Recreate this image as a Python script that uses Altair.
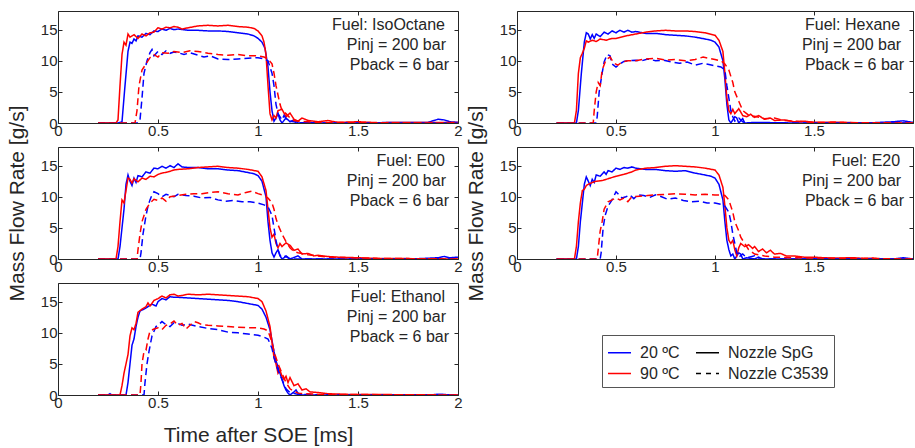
import altair as alt
import pandas as pd

FONT = "Liberation Sans"
INK = "#262626"

TEMPS = ["20 ºC", "90 ºC"]
NOZZLES = ["Nozzle SpG", "Nozzle C3539"]
LEGEND_ORDER = ["20 ºC", "90 ºC", "Nozzle SpG", "Nozzle C3539"]
LEGEND_COLORS = ["#0000ff", "#ff0000", "#000000", "#000000"]
NOZZLE_DASH = [[1, 0], [7, 4]]
X_TICKS = [0, 0.5, 1, 1.5, 2]
Y_TICKS = [0, 5, 10, 15]
ANN_Y = [15.7, 12.5, 9.3]
ANN_X = [1.935, 1.94, 1.955]

# ---------------- IsoOctane ----------------
ISO_20_SPG = [(0.20,0),(0.30,0),(0.32,0.2),(0.335,6),(0.35,11.5),(0.36,13),(0.37,12.8),(0.38,13.5),(0.39,13.2),(0.40,14),(0.42,13.8),(0.44,14.4),(0.46,14.2),(0.48,14.8),(0.50,14.7),(0.52,15.1),(0.54,14.9),(0.56,15.2),(0.58,15.0),(0.60,15.1),(0.65,14.9),(0.70,14.9),(0.75,14.8),(0.80,14.8),(0.85,14.7),(0.90,14.5),(0.95,14.3),(0.98,14.0),(1.00,13.6),(1.02,13.0),(1.035,12.0),(1.05,9),(1.06,5),(1.07,2),(1.08,0.3),(1.09,0.8),(1.10,1.5),(1.11,0.5),(1.12,0),(1.14,0.8),(1.16,0.2),(1.18,0.5),(1.20,0),(1.25,0.1),(1.30,0),(1.50,0),(1.70,0.1),(1.85,0.1),(1.90,0.6),(1.93,0.5),(1.96,0.2),(2.0,0.1)]
ISO_90_SPG = [(0.20,0),(0.29,0),(0.30,0.5),(0.31,6),(0.32,11),(0.33,13),(0.34,12.5),(0.35,14.3),(0.36,13.8),(0.38,14.2),(0.40,13.6),(0.42,14.3),(0.44,14),(0.46,14.5),(0.48,14.6),(0.50,15.3),(0.52,15.1),(0.54,15.4),(0.56,15.3),(0.58,15.5),(0.60,15.4),(0.62,15.1),(0.65,15.3),(0.70,15.6),(0.75,15.7),(0.80,15.6),(0.85,15.7),(0.90,15.5),(0.95,15.4),(0.98,15.2),(1.00,14.8),(1.02,14.0),(1.03,13),(1.04,11),(1.05,6),(1.06,1.5),(1.07,0.5),(1.08,1.2),(1.09,0.8),(1.10,2.0),(1.12,2.2),(1.14,1.0),(1.16,1.6),(1.18,0.6),(1.20,0.3),(1.22,0.8),(1.25,0.4),(1.30,0.2),(1.35,0.4),(1.40,0.1),(1.50,0.2),(1.60,0.05),(1.80,0.1),(2.0,0.1)]
ISO_20_C = [(0.20,0),(0.40,0),(0.41,0.5),(0.42,4),(0.43,8),(0.445,10),(0.46,11.3),(0.47,11.8),(0.48,10.8),(0.50,11.5),(0.52,11.0),(0.54,11.6),(0.56,11.2),(0.58,11.4),(0.60,11.3),(0.63,11.0),(0.66,11.3),(0.70,10.9),(0.73,10.6),(0.76,10.8),(0.80,10.3),(0.85,10.2),(0.90,10.3),(0.95,10.4),(1.00,10.5),(1.03,10.3),(1.05,10.0),(1.07,8),(1.08,6),(1.09,3),(1.10,1.5),(1.12,0.5),(1.13,1.2),(1.15,0.3),(1.18,0.2),(1.20,0),(1.4,0),(2.0,0)]
ISO_90_C = [(0.20,0),(0.385,0),(0.395,2),(0.405,6),(0.42,8.5),(0.44,9.5),(0.46,10.5),(0.48,11.0),(0.50,10.6),(0.52,11.3),(0.55,11.2),(0.58,11.5),(0.62,11.3),(0.66,11.6),(0.70,11.5),(0.75,11.2),(0.80,11.0),(0.85,10.9),(0.90,11.0),(0.95,10.8),(1.00,10.8),(1.03,10.6),(1.05,10.3),(1.07,9.5),(1.08,8),(1.09,6),(1.10,4.5),(1.11,3),(1.12,2),(1.14,1.5),(1.16,0.8),(1.18,0.4),(1.20,0.3),(1.25,0.2),(1.30,0.1),(1.5,0.05),(2.0,0)]

# ---------------- Hexane ----------------
HEX_20_SPG = [(0.20,0),(0.30,0),(0.31,2),(0.325,8),(0.34,13),(0.35,14.5),(0.36,14.3),(0.37,13.5),(0.38,14.2),(0.39,13.6),(0.40,14.3),(0.42,13.9),(0.44,14.6),(0.46,14.3),(0.48,14.8),(0.50,14.5),(0.52,14.9),(0.54,14.6),(0.56,14.9),(0.58,14.6),(0.60,14.7),(0.65,14.4),(0.70,14.4),(0.75,14.2),(0.80,14.1),(0.85,14.0),(0.90,13.8),(0.95,13.5),(0.98,13.3),(1.00,13.0),(1.02,12.2),(1.04,10),(1.05,7),(1.06,3),(1.07,0.5),(1.08,0),(1.10,1.0),(1.11,0.8),(1.12,0),(1.14,0.7),(1.15,0),(1.2,0.1),(1.4,0),(1.8,0.05),(1.9,0.2),(1.95,0.35),(2.0,0.1)]
HEX_90_SPG = [(0.20,0),(0.29,0),(0.30,2),(0.31,8),(0.32,10.5),(0.33,11.2),(0.34,12),(0.35,13.2),(0.36,13.0),(0.38,13.3),(0.40,13.1),(0.42,13.5),(0.45,13.3),(0.48,13.6),(0.50,13.6),(0.55,14.0),(0.60,14.3),(0.65,14.6),(0.70,14.8),(0.75,14.9),(0.80,14.8),(0.85,14.8),(0.90,14.7),(0.95,14.5),(1.00,14.1),(1.02,13.3),(1.04,11.5),(1.05,8),(1.06,4),(1.07,2),(1.08,1.5),(1.09,2.2),(1.10,1.5),(1.12,2.3),(1.14,1.2),(1.16,1.0),(1.18,1.4),(1.20,0.9),(1.22,1.2),(1.25,0.6),(1.28,0.8),(1.30,0.4),(1.35,0.5),(1.40,0.2),(1.45,0.3),(1.50,0.1),(1.60,0.15),(1.70,0.05),(2.0,0)]
HEX_20_C = [(0.20,0),(0.40,0),(0.405,1),(0.415,5),(0.43,8),(0.44,9.8),(0.455,11),(0.47,10.8),(0.48,9.5),(0.50,9.0),(0.52,9.5),(0.54,9.9),(0.56,10.0),(0.60,10.1),(0.63,10.0),(0.66,10.3),(0.70,10.0),(0.74,10.1),(0.78,9.8),(0.82,9.6),(0.86,9.8),(0.90,9.3),(0.94,9.6),(0.97,9.4),(1.00,9.2),(1.03,9.0),(1.05,8.5),(1.06,6),(1.07,4),(1.08,2),(1.09,1),(1.10,0.3),(1.12,0.8),(1.14,0.2),(1.16,0),(1.4,0),(2.0,0)]
HEX_90_C = [(0.20,0),(0.385,0),(0.39,2),(0.40,5),(0.41,6.5),(0.42,6),(0.43,8.5),(0.45,10.2),(0.47,10.6),(0.49,9.6),(0.51,9.3),(0.53,9.8),(0.56,10.0),(0.60,10.0),(0.65,10.3),(0.70,10.4),(0.75,10.1),(0.80,10.2),(0.85,10.0),(0.90,10.2),(0.94,10.6),(0.97,10.4),(1.00,10.2),(1.03,10.0),(1.05,9.5),(1.07,8.5),(1.09,6.5),(1.10,5),(1.12,3.5),(1.14,2),(1.16,1.5),(1.18,1.0),(1.20,1.1),(1.25,0.7),(1.30,0.8),(1.35,0.4),(1.40,0.3),(1.5,0.1),(2.0,0)]

# ---------------- E00 ----------------
E00_20_SPG = [(0.20,0),(0.30,0),(0.31,2),(0.32,5),(0.33,8),(0.34,12),(0.35,13.5),(0.36,12.5),(0.37,11.8),(0.38,13.0),(0.39,12.3),(0.40,13.4),(0.42,13.2),(0.44,14.0),(0.46,13.8),(0.48,14.6),(0.50,14.5),(0.52,14.9),(0.54,14.6),(0.56,15.0),(0.58,14.7),(0.60,15.3),(0.62,14.8),(0.65,14.7),(0.70,14.7),(0.75,14.5),(0.80,14.5),(0.85,14.3),(0.90,14.2),(0.95,13.9),(0.98,13.7),(1.00,13.4),(1.02,12.5),(1.04,10),(1.05,6),(1.06,3),(1.07,1),(1.08,0.3),(1.09,1.0),(1.10,1.5),(1.11,0.5),(1.12,0),(1.14,0.4),(1.16,0),(1.20,0.5),(1.22,0),(1.5,0),(1.8,0.05),(1.9,0.2),(1.93,0.4),(1.96,0.2),(2.0,0.3)]
E00_90_SPG = [(0.20,0),(0.29,0),(0.30,2),(0.31,6),(0.32,9.5),(0.33,9.0),(0.34,11),(0.35,13),(0.36,12.8),(0.37,12.2),(0.38,12.9),(0.40,12.4),(0.42,13.0),(0.44,12.8),(0.46,13.3),(0.48,13.2),(0.50,13.6),(0.52,13.8),(0.55,14.0),(0.58,14.3),(0.60,14.4),(0.65,14.5),(0.70,14.7),(0.75,14.8),(0.80,14.9),(0.85,14.7),(0.90,14.6),(0.95,14.4),(1.00,14.1),(1.02,13.2),(1.04,11),(1.05,8),(1.06,5),(1.07,3.5),(1.08,4),(1.09,2.5),(1.10,1.8),(1.11,2.5),(1.12,2.0),(1.14,2.6),(1.16,2.2),(1.18,1.4),(1.20,1.6),(1.22,0.8),(1.25,0.9),(1.28,0.5),(1.30,0.6),(1.35,0.4),(1.40,0.3),(1.50,0.2),(1.60,0.1),(2.0,0)]
E00_20_C = [(0.20,0),(0.41,0),(0.415,1),(0.425,4),(0.44,7),(0.45,8.5),(0.46,9.5),(0.47,10.3),(0.48,10.8),(0.50,10.5),(0.52,10.0),(0.54,10.4),(0.56,10.2),(0.58,10.0),(0.60,10.4),(0.64,10.2),(0.68,10.1),(0.72,9.8),(0.76,9.9),(0.80,9.5),(0.84,9.3),(0.88,9.4),(0.92,9.2),(0.96,9.2),(1.00,9.0),(1.03,8.7),(1.05,8.4),(1.07,7),(1.08,5),(1.09,3),(1.10,1.5),(1.11,0.6),(1.12,0.2),(1.14,0.5),(1.16,0),(1.4,0),(2.0,0)]
E00_90_C = [(0.20,0),(0.395,0),(0.40,1.5),(0.41,4),(0.42,6),(0.44,8),(0.46,9),(0.48,9.6),(0.50,9.4),(0.52,9.8),(0.54,9.3),(0.56,10.0),(0.60,10.2),(0.64,10.4),(0.68,10.5),(0.72,10.5),(0.76,10.7),(0.80,10.8),(0.85,10.5),(0.90,10.3),(0.94,10.7),(0.97,10.9),(1.00,10.5),(1.03,10.2),(1.05,9.8),(1.07,9.0),(1.08,8),(1.09,6.5),(1.10,5.5),(1.12,4),(1.14,2.8),(1.16,1.8),(1.18,1.2),(1.20,1.0),(1.25,0.7),(1.30,0.5),(1.35,0.3),(1.45,0.2),(1.6,0.1),(2.0,0)]

# ---------------- Ethanol ----------------
ETH_20_SPG = [(0.20,0),(0.25,0),(0.26,0.2),(0.27,0),(0.34,0),(0.35,2),(0.36,5),(0.37,8),(0.38,9),(0.39,11),(0.40,12.5),(0.41,13.5),(0.43,13.8),(0.45,14.2),(0.47,14.6),(0.49,14.3),(0.50,15.0),(0.52,15.5),(0.54,15.3),(0.56,15.8),(0.58,15.7),(0.60,15.7),(0.65,15.6),(0.70,15.5),(0.75,15.4),(0.80,15.3),(0.85,15.2),(0.90,15.0),(0.95,14.7),(1.00,14.4),(1.02,13.8),(1.04,12.5),(1.06,10.5),(1.08,7),(1.09,5.5),(1.10,4.5),(1.11,3.5),(1.12,2.5),(1.13,1.5),(1.14,0.8),(1.15,0.3),(1.16,0),(1.18,0.5),(1.19,0.8),(1.20,0.3),(1.22,0),(1.5,0),(1.85,0),(1.9,0.1),(2.0,0)]
ETH_90_SPG = [(0.20,0),(0.31,0),(0.32,1.5),(0.33,3.5),(0.34,5),(0.35,6.5),(0.36,9.5),(0.37,10.8),(0.38,10.5),(0.39,11.5),(0.40,13.3),(0.42,13.8),(0.44,14.2),(0.45,14.8),(0.46,14.3),(0.48,15.2),(0.50,15.5),(0.52,15.9),(0.54,15.6),(0.56,16.1),(0.58,16.2),(0.60,15.9),(0.62,16.0),(0.65,16.2),(0.70,16.1),(0.75,16.2),(0.80,16.1),(0.85,16.0),(0.90,15.9),(0.95,15.8),(1.00,15.5),(1.02,15.0),(1.04,13.5),(1.06,11),(1.07,8.5),(1.08,6),(1.09,5),(1.10,3.5),(1.11,4),(1.12,3),(1.13,2.5),(1.14,3),(1.15,2),(1.16,2.8),(1.18,1.5),(1.20,1.8),(1.22,0.8),(1.24,1.0),(1.26,0.5),(1.30,0.4),(1.35,0.2),(1.45,0.1),(2.0,0)]
ETH_20_C = [(0.20,0),(0.43,0),(0.435,2),(0.445,5),(0.455,7),(0.47,9.5),(0.49,11),(0.51,11.5),(0.52,11.8),(0.54,11.3),(0.56,11.0),(0.58,11.6),(0.60,11.5),(0.62,11.2),(0.65,11.4),(0.70,11.0),(0.75,10.7),(0.80,10.5),(0.85,10.1),(0.90,10.0),(0.95,9.8),(1.00,9.6),(1.03,9.3),(1.05,9.0),(1.07,7.5),(1.08,6),(1.10,4),(1.12,2.5),(1.14,1),(1.16,0.4),(1.20,0.1),(1.4,0),(1.85,0),(1.9,0.1),(2.0,0)]
ETH_90_C = [(0.20,0),(0.41,0),(0.415,2),(0.42,5),(0.43,7),(0.44,7.2),(0.45,9),(0.46,10.3),(0.48,10.6),(0.50,10.8),(0.52,10.5),(0.54,11.2),(0.56,11.4),(0.58,11.9),(0.60,11.2),(0.62,11.5),(0.64,10.6),(0.66,11.2),(0.68,11.8),(0.70,11.6),(0.72,11.3),(0.75,11.2),(0.80,11.1),(0.85,11.0),(0.90,10.9),(0.95,10.8),(1.00,10.8),(1.03,10.6),(1.05,10.3),(1.07,8.5),(1.08,7),(1.10,5),(1.12,3.5),(1.14,2),(1.16,1),(1.18,0.6),(1.20,0.3),(1.3,0.1),(2.0,0)]

# ---------------- E20 ----------------
E20_20_SPG = [(0.20,0),(0.30,0),(0.31,2),(0.32,6),(0.33,9),(0.34,12),(0.35,13.2),(0.36,12.5),(0.37,11.8),(0.38,12.8),(0.39,12.3),(0.40,13.5),(0.42,13.3),(0.44,14.0),(0.45,13.6),(0.46,14.2),(0.48,14.0),(0.50,14.6),(0.52,14.4),(0.54,14.7),(0.56,14.6),(0.58,14.8),(0.60,14.6),(0.65,14.4),(0.70,14.4),(0.75,14.2),(0.80,14.1),(0.85,14.2),(0.90,13.8),(0.95,13.5),(0.98,13.3),(1.00,13.0),(1.02,12.0),(1.04,9.5),(1.05,6),(1.06,3),(1.07,1.5),(1.08,0.5),(1.09,0.8),(1.10,0),(1.12,1.0),(1.13,0.8),(1.14,0),(1.16,0.2),(1.20,0),(1.22,0.3),(1.24,0),(1.5,0),(1.9,0),(1.95,0.2),(2.0,0)]
E20_90_SPG = [(0.20,0),(0.29,0),(0.30,2),(0.31,6),(0.32,9),(0.33,11),(0.34,11.2),(0.35,11.8),(0.36,12.0),(0.38,12.3),(0.40,12.5),(0.43,12.6),(0.46,12.9),(0.50,13.3),(0.54,13.6),(0.58,14.0),(0.60,14.3),(0.65,14.6),(0.70,14.7),(0.75,14.9),(0.80,15.0),(0.85,14.9),(0.90,14.8),(0.95,14.6),(1.00,14.3),(1.02,13.5),(1.04,11.5),(1.05,8.5),(1.06,5),(1.07,3),(1.08,2.5),(1.09,3),(1.10,1.5),(1.11,0.5),(1.12,1.8),(1.13,2.5),(1.15,2.0),(1.17,2.3),(1.19,1.7),(1.20,2.0),(1.22,1.2),(1.24,1.6),(1.26,1.0),(1.28,1.4),(1.30,0.8),(1.33,0.9),(1.36,0.5),(1.40,0.5),(1.45,0.3),(1.50,0.3),(1.55,0.2),(1.6,0.15),(1.7,0.2),(1.75,0.1),(1.8,0.15),(1.85,0),(2.0,0)]
E20_20_C = [(0.20,0),(0.42,0),(0.425,1),(0.435,5),(0.445,7),(0.46,8.5),(0.48,9.5),(0.50,10.8),(0.51,10.5),(0.53,9.8),(0.55,10.0),(0.57,10.3),(0.59,9.7),(0.61,10.3),(0.64,10.2),(0.67,9.9),(0.70,10.3),(0.73,10.0),(0.76,9.6),(0.80,9.8),(0.84,9.4),(0.88,9.2),(0.92,9.3),(0.96,9.0),(1.00,9.0),(1.03,8.8),(1.05,8.5),(1.07,7.5),(1.08,6),(1.09,4),(1.10,2.5),(1.11,1),(1.12,0.3),(1.14,0.8),(1.16,0.2),(1.20,0.5),(1.22,0),(1.4,0),(2.0,0)]
E20_90_C = [(0.20,0),(0.405,0),(0.41,1.5),(0.42,4.5),(0.43,6),(0.44,8),(0.46,9.2),(0.48,9.5),(0.50,9.8),(0.52,9.5),(0.54,9.8),(0.56,9.2),(0.58,10.0),(0.62,10.1),(0.66,10.2),(0.70,10.3),(0.75,10.4),(0.80,10.5),(0.85,10.4),(0.90,10.3),(0.95,10.4),(1.00,10.3),(1.03,10.3),(1.05,10.2),(1.07,9.5),(1.08,8.5),(1.09,7.5),(1.10,6),(1.12,4.5),(1.13,3.5),(1.15,2.5),(1.17,1.5),(1.20,0.8),(1.25,0.5),(1.30,0.3),(1.4,0.2),(2.0,0)]

PANELS = {
    "IsoOctane": [ISO_20_SPG, ISO_90_SPG, ISO_20_C, ISO_90_C],
    "Hexane": [HEX_20_SPG, HEX_90_SPG, HEX_20_C, HEX_90_C],
    "E00": [E00_20_SPG, E00_90_SPG, E00_20_C, E00_90_C],
    "Ethanol": [ETH_20_SPG, ETH_90_SPG, ETH_20_C, ETH_90_C],
    "E20": [E20_20_SPG, E20_90_SPG, E20_20_C, E20_90_C],
}
SERIES_KEYS = [(TEMPS[0], NOZZLES[0]), (TEMPS[1], NOZZLES[0]),
               (TEMPS[0], NOZZLES[1]), (TEMPS[1], NOZZLES[1])]

TICK_IN = alt.ExprRef(expr="-4")

color_enc = alt.Color(
    "temp:N",
    scale=alt.Scale(domain=LEGEND_ORDER, range=LEGEND_COLORS),
    legend=alt.Legend(
        title=None, orient="none", legendX=544, legendY=324, columns=2, columnPadding=13,
        symbolType="stroke", symbolSize=529, symbolStrokeWidth=1.5,
        labelFontSize=16, labelOffset=8, rowPadding=-3, padding=5,
        strokeColor="#555555",
        symbolDash=alt.ExprRef(expr="datum.value === 'Nozzle C3539' ? [5, 5] : [1, 0]"),
    ),
)
dash_enc = alt.StrokeDash("nozzle:N", scale=alt.Scale(domain=NOZZLES, range=NOZZLE_DASH), legend=None)


def panel(fuel, width, ytitle=False, xtitle=False, hide_last=False):
    rows = []
    for order, ((temp, noz), pts) in enumerate(zip(SERIES_KEYS, PANELS[fuel])):
        for t, v in pts:
            rows.append({"t": t, "v": v, "temp": temp, "nozzle": noz, "o": order})
    df = pd.DataFrame(rows)
    xs = alt.Scale(domain=[0, 2], nice=False)
    ys = alt.Scale(domain=[0, 18], nice=False)
    xaxis_kw = dict(values=X_TICKS, format="~g", tickSize=TICK_IN, labelPadding=4, grid=False,
                    labelFlush=False, domain=False,
                    title="Time after SOE [ms]" if xtitle else None, titlePadding=14)
    if hide_last:
        xaxis_kw["labelExpr"] = "datum.value == 2 ? '' : datum.label"
    lines = alt.Chart(df).mark_line(strokeWidth=1.5, clip=True).encode(
        x=alt.X("t:Q", scale=xs, axis=alt.Axis(**xaxis_kw)),
        y=alt.Y("v:Q", scale=ys, axis=alt.Axis(values=Y_TICKS, format="~g", tickSize=TICK_IN,
                                                labelPadding=5, grid=False, domain=False,
                                                labelFlush=False,
                                                title="Mass Flow Rate [g/s]" if ytitle else None,
                                                titlePadding=13)),
        color=color_enc,
        strokeDash=dash_enc,
        detail="o:N",
    )
    frame = alt.Chart(df).mark_rule(opacity=0).encode(
        x=alt.X("t:Q", scale=xs, axis=alt.Axis(orient="top", values=X_TICKS, labels=False,
                                                tickSize=TICK_IN, grid=False, domain=False, title=None)),
        y=alt.Y("v:Q", scale=ys, axis=alt.Axis(orient="right", values=Y_TICKS, labels=False,
                                                tickSize=TICK_IN, grid=False, domain=False, title=None)),
    )
    ann = pd.DataFrame({"x": ANN_X, "y": ANN_Y,
                        "label": [f"Fuel: {fuel}", "Pinj = 200 bar", "Pback = 6 bar"]})
    text = alt.Chart(ann).mark_text(align="right", baseline="middle", fontSize=16,
                                     font=FONT, color=INK).encode(
        x=alt.X("x:Q", scale=xs, axis=None),
        y=alt.Y("y:Q", scale=ys, axis=None),
        text="label:N",
    )
    return alt.layer(lines, frame, text).resolve_axis(x="independent", y="independent").properties(
        width=width, height=112)


chart = alt.concat(
    panel("IsoOctane", 400), panel("Hexane", 396, hide_last=True),
    panel("E00", 400, ytitle=True), panel("E20", 396, ytitle=True, hide_last=True),
    panel("Ethanol", 400, xtitle=True),
    columns=2, spacing={"row": 24, "column": 59}, bounds="flush",
).configure(
    font=FONT, padding={"left": 5, "top": 10, "right": 0, "bottom": 0}
).configure_view(stroke=INK, strokeWidth=1).configure_axis(
    labelFont=FONT, labelFontSize=15, labelColor=INK, tickColor=INK, tickWidth=1,
    titleFont=FONT, titleFontSize=21, titleFontWeight="normal", titleColor=INK,
).configure_legend(labelFont=FONT, labelColor=INK)

chart.save("out.html", embed_options={"renderer": "svg", "actions": False})
